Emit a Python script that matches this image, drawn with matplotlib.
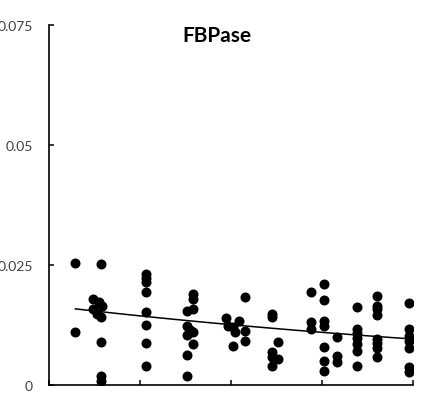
import numpy as np
import matplotlib
matplotlib.use("Agg")
import matplotlib.pyplot as plt

# Messpunkte (x in Achseneinheiten 0..4, y = FBPase)
x_A = [0.29, 0.29]
y_A = [0.0254, 0.0110]
x_B = [0.57, 0.48, 0.55, 0.58, 0.48, 0.53, 0.57, 0.57, 0.57, 0.57]
y_B = [0.0252, 0.0179, 0.0173, 0.0165, 0.0158, 0.0148, 0.0142, 0.0090, 0.0019, 0.0008]
x_C = [1.07] * 8
y_C = [0.0231, 0.0223, 0.0214, 0.0194, 0.0152, 0.0125, 0.0088, 0.0040]
x_D = [1.52, 1.58, 1.58, 1.58, 1.52, 1.55, 1.58, 1.52, 1.58, 1.52, 1.52]
y_D = [0.0154, 0.0190, 0.0179, 0.0158, 0.0122, 0.0115, 0.0110, 0.0105, 0.0085, 0.0063, 0.0018]
x_E = [1.95, 1.97, 2.02, 2.09, 2.04, 2.15, 2.15, 2.15, 2.02]
y_E = [0.0140, 0.0123, 0.0120, 0.0133, 0.0110, 0.0183, 0.0113, 0.0092, 0.0082]
x_F = [2.45, 2.45, 2.52, 2.45, 2.52, 2.45, 2.45]
y_F = [0.0148, 0.0142, 0.0090, 0.0069, 0.0054, 0.0058, 0.0040]
x_G = [2.88, 3.02, 3.02, 2.88, 2.88, 3.02, 3.02, 3.16, 3.02, 3.02, 3.02, 3.16, 3.16]
y_G = [0.0194, 0.0210, 0.0177, 0.0131, 0.0117, 0.0133, 0.0123, 0.0100, 0.0079, 0.0050, 0.0029, 0.0060, 0.0048]
x_H = [3.38] * 7
y_H = [0.0162, 0.0117, 0.0108, 0.0098, 0.0085, 0.0071, 0.0040]
x_I = [3.60] * 8
y_I = [0.0186, 0.0165, 0.0158, 0.0145, 0.0096, 0.0087, 0.0077, 0.0058]
x_J = [3.96] * 7
y_J = [0.0171, 0.0117, 0.0102, 0.0092, 0.0077, 0.0038, 0.0027]

x_all = np.array(x_A + x_B + x_C + x_D + x_E + x_F + x_G + x_H + x_I + x_J)
y_all = np.array(y_A + y_B + y_C + y_D + y_E + y_F + y_G + y_H + y_I + y_J)

y_ticks = [0, 0.025, 0.05, 0.075]
y_labels = ["0", "0.025", "0.05", "0.075"]

# Trendlinie (exponentiell), Parameter
trend_a = 0.0165
trend_k = -0.136
xt = np.linspace(x_all.min(), x_all.max(), 100)
yt = trend_a * np.exp(trend_k * xt)

fig = plt.figure(figsize=(4.34, 4.02), dpi=100)
ax = fig.add_axes([49 / 434, 16 / 402, 364 / 434, 360 / 402])

ax.scatter(x_all, y_all, s=52, color="black", zorder=3, linewidths=0)
ax.plot(xt, yt, color="black", lw=1.1, zorder=2)

ax.set_xlim(0, 4)
ax.set_ylim(0, 0.075)
ax.set_xticks([0, 1, 2, 3, 4])
ax.set_xticklabels([])
ax.set_yticks(y_ticks)
ax.set_yticklabels(y_labels, fontsize=10, color="#404040", family="Lato")
ax.tick_params(direction="in", length=3.5, width=1.1, pad=11.5)

for s in ["top", "right"]:
    ax.spines[s].set_visible(False)
for s in ["left", "bottom"]:
    ax.spines[s].set_linewidth(1.2)
    ax.spines[s].set_color("black")

fig.text(217 / 434, 1 - 36 / 402, "FBPase", ha="center", va="center",
         fontsize=15, fontweight="bold", family="Lato")

fig.savefig("out.png", dpi=100)
